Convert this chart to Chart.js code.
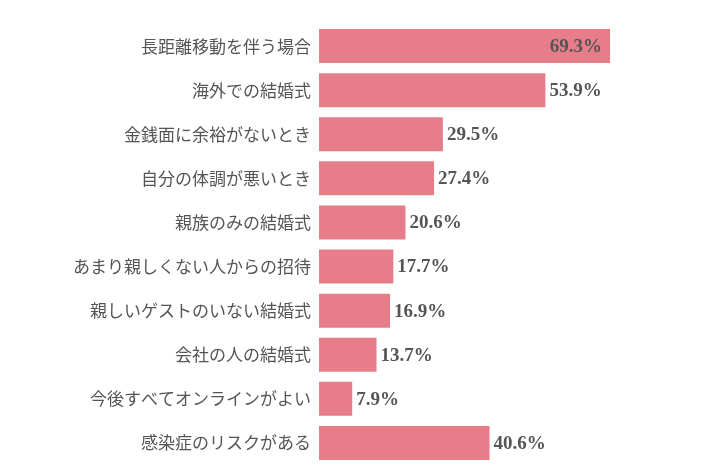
<!DOCTYPE html>
<html>
<head>
<meta charset="utf-8">
<script src="https://cdn.jsdelivr.net/npm/chart.js@4/dist/chart.umd.min.js"></script>
<style>
  html, body { margin: 0; padding: 0; background: #fff; }
  #wrap { width: 712px; height: 471px; position: relative; }
</style>
</head>
<body>
<div id="wrap"><canvas id="bar-chart"></canvas></div>
<script>
/* Data */
const CATEGORIES = [
    '長距離移動を伴う場合',
    '海外での結婚式',
    '金銭面に余裕がないとき',
    '自分の体調が悪いとき',
    '親族のみの結婚式',
    'あまり親しくない人からの招待',
    '親しいゲストのいない結婚式',
    '会社の人の結婚式',
    '今後すべてオンラインがよい',
    '感染症のリスクがある'
];
const VALUES = [69.3, 53.9, 29.5, 27.4, 20.6, 17.7, 16.9, 13.7, 7.9, 40.6];
const X_MAX = 90;

const BAR_COLOR = 'rgb(232, 125, 138)';
const TEXT_COLOR = '#555';

/* Percent labels at the end of each bar (inside the first one) */
const valueLabels = {
    id: 'valueLabels',
    afterDatasetsDraw(chart) {
        const ctx = chart.ctx;
        const meta = chart.getDatasetMeta(0);
        ctx.save();
        ctx.font = 'bold 19px "Liberation Serif", serif';
        ctx.fillStyle = TEXT_COLOR;
        ctx.textBaseline = 'middle';
        meta.data.forEach((bar, i) => {
            const text = VALUES[i].toFixed(1) + '%';
            if (i === 0) {
                ctx.textAlign = 'right';
                ctx.fillText(text, bar.x - 8, bar.y + 1);
            } else {
                ctx.textAlign = 'left';
                ctx.fillText(text, bar.x + 4, bar.y + 1);
            }
        });
        ctx.restore();
    }
};

function initBarChart() {
    var ctx = document.getElementById('bar-chart');
    return new Chart(ctx, {
        type: 'bar',
        data: {
            labels: CATEGORIES,
            datasets: [{
                data: VALUES,
                backgroundColor: BAR_COLOR,
                borderWidth: 0,
                barPercentage: 1,
                categoryPercentage: 0.77
            }]
        },
        options: {
            indexAxis: 'y',
            responsive: true,
            maintainAspectRatio: false,
            animation: false,
            layout: {
                padding: { top: 24, bottom: 6, left: 0, right: 15 }
            },
            plugins: {
                legend: { display: false },
                tooltip: { enabled: false }
            },
            scales: {
                x: {
                    display: false,
                    min: 0,
                    max: X_MAX
                },
                y: {
                    grid: { display: false, drawTicks: false },
                    border: { display: false },
                    afterFit: function(scale) {
                        // fixed label column, no extra room for half-height labels
                        scale.width = 319;
                        scale.paddingTop = 0;
                        scale.paddingBottom = 0;
                    },
                    ticks: {
                        padding: 8,
                        color: TEXT_COLOR,
                        font: { family: '"Noto Sans CJK JP", sans-serif', size: 17 }
                    }
                }
            }
        },
        plugins: [valueLabels]
    });
}

var barChart = initBarChart();
</script>
</body>
</html>
